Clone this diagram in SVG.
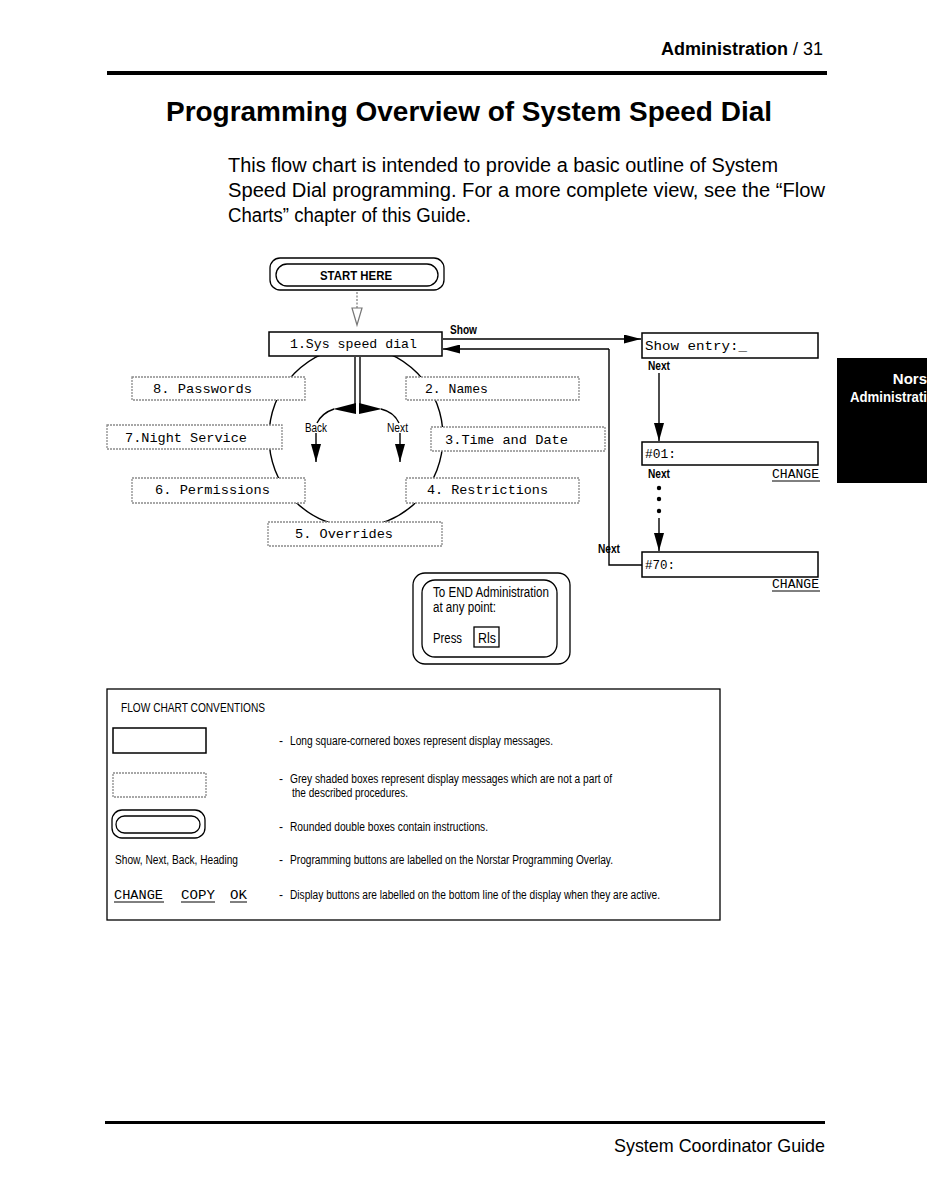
<svg xmlns="http://www.w3.org/2000/svg" width="942" height="1180" viewBox="0 0 942 1180">
<defs>
<style>
.sans{font-family:"Liberation Sans",Arial,sans-serif;fill:#000}
.bold{font-weight:bold}
.lcd{font-family:"Liberation Mono","DejaVu Sans Mono",monospace;font-size:13.5px;fill:#000}
.lbl{font-family:"Liberation Sans",Arial,sans-serif;font-size:12px;font-weight:bold;fill:#000}
.conv{font-family:"Liberation Sans",Arial,sans-serif;font-size:12px;fill:#000}
.disp{fill:#fff;stroke:#000;stroke-width:1.5}
.grey{fill:#fff;stroke:#8a8a8a;stroke-width:1.3;stroke-dasharray:2 1}
.ln{fill:none;stroke:#000;stroke-width:1.4}
.ul{stroke:#000;stroke-width:1}
</style>
<marker id="ah" markerUnits="userSpaceOnUse" markerWidth="18" markerHeight="10" refX="18" refY="5" orient="auto">
<path d="M0,0 L18,5 L0,10 z" fill="#000"/>
</marker>
<marker id="ahs" markerUnits="userSpaceOnUse" markerWidth="17" markerHeight="9" refX="17" refY="4.5" orient="auto">
<path d="M0,0 L17,4.5 L0,9 z" fill="#000"/>
</marker>
</defs>
<rect width="942" height="1180" fill="#fff"/>

<g id="header">
<text x="823" y="55" text-anchor="end" class="sans" font-size="18"><tspan class="bold">Administration</tspan> / 31</text>
<rect x="107" y="71" width="720" height="4" fill="#000"/>
<text x="166" y="121" class="sans bold" font-size="28" textLength="606" lengthAdjust="spacingAndGlyphs">Programming Overview of System Speed Dial</text>
<text x="228" y="172" class="sans" font-size="19.5" textLength="550" lengthAdjust="spacingAndGlyphs">This flow chart is intended to provide a basic outline of System</text>
<text x="228" y="197" class="sans" font-size="19.5" textLength="597" lengthAdjust="spacingAndGlyphs">Speed Dial programming.  For a more complete view, see the “Flow</text>
<text x="228" y="222" class="sans" font-size="19.5" textLength="243" lengthAdjust="spacingAndGlyphs">Charts” chapter of this Guide.</text>
</g>

<g id="tab">
<rect x="837" y="358" width="90" height="125" fill="#000"/>
<text x="927" y="384" text-anchor="end" class="sans bold" font-size="15" style="fill:#fff">Nors</text>
<text x="927" y="402" text-anchor="end" class="sans bold" font-size="15" textLength="77" lengthAdjust="spacingAndGlyphs" style="fill:#fff">Administrati</text>
</g>

<g id="connectors">
<ellipse cx="356" cy="437" rx="87" ry="90" class="ln"/>
<line x1="357" y1="292" x2="357" y2="309" stroke="#777" stroke-width="1.2" stroke-dasharray="2 1.5"/>
<path d="M352,308 L362,308 L357,325 z" fill="#fff" stroke="#777" stroke-width="1.2"/>
<line x1="443" y1="339" x2="641" y2="339" class="ln" marker-end="url(#ahs)"/>
<polyline points="609,349 609,565 642,565" class="ln"/>
<line x1="609" y1="349" x2="443" y2="349" class="ln" marker-end="url(#ahs)"/>
<line x1="355" y1="357" x2="355" y2="412" class="ln"/>
<line x1="360" y1="357" x2="360" y2="412" class="ln"/>
<path d="M333,409 L356,403 L356,414 z" fill="#000"/>
<path d="M382,409 L359,403 L359,414 z" fill="#000"/>
<path d="M334,409 Q322,413 317,423" class="ln"/>
<path d="M381,409 Q394,412 399,423" class="ln"/>
<line x1="316" y1="433" x2="316" y2="462" class="ln" marker-end="url(#ah)"/>
<line x1="400" y1="433" x2="400" y2="462" class="ln" marker-end="url(#ah)"/>
<line x1="659" y1="373" x2="659" y2="441" class="ln" marker-end="url(#ah)"/>
<circle cx="659" cy="488" r="2.2" fill="#000"/>
<circle cx="659" cy="499" r="2.2" fill="#000"/>
<circle cx="659" cy="511" r="2.2" fill="#000"/>
<line x1="659" y1="518" x2="659" y2="551" class="ln" marker-end="url(#ah)"/>
<text x="450" y="334" class="lbl" textLength="27" lengthAdjust="spacingAndGlyphs">Show</text>
<text x="305" y="432" class="lbl" style="font-weight:normal" textLength="22" lengthAdjust="spacingAndGlyphs">Back</text>
<text x="387" y="432" class="lbl" style="font-weight:normal" textLength="21" lengthAdjust="spacingAndGlyphs">Next</text>
<text x="648" y="370" class="lbl" textLength="22" lengthAdjust="spacingAndGlyphs">Next</text>
<text x="648" y="478" class="lbl" textLength="22" lengthAdjust="spacingAndGlyphs">Next</text>
<text x="598" y="553" class="lbl" textLength="22" lengthAdjust="spacingAndGlyphs">Next</text>
</g>

<g id="start">
<rect x="270" y="258" width="174" height="32" rx="10" fill="#fff" stroke="#000" stroke-width="1.3"/>
<rect x="276" y="264" width="162" height="22" rx="11" fill="none" stroke="#000" stroke-width="1.3"/>
<text x="356" y="280" text-anchor="middle" class="sans bold" font-size="13" textLength="72" lengthAdjust="spacingAndGlyphs">START HERE</text>
</g>

<g id="n1"><rect x="269" y="332" width="173" height="24" class="disp"/><text x="290" y="348" class="lcd" textLength="127" lengthAdjust="spacingAndGlyphs">1.Sys speed dial</text></g>
<g id="n8"><rect x="132" y="377" width="173" height="23" class="grey"/><text x="153" y="393" class="lcd" textLength="99" lengthAdjust="spacingAndGlyphs">8. Passwords</text></g>
<g id="n2"><rect x="406" y="377" width="173" height="23" class="grey"/><text x="425" y="393" class="lcd" textLength="63" lengthAdjust="spacingAndGlyphs">2. Names</text></g>
<g id="n7"><rect x="107" y="425" width="175" height="24" class="grey"/><text x="125" y="442" class="lcd" textLength="122" lengthAdjust="spacingAndGlyphs">7.Night Service</text></g>
<g id="n3"><rect x="431" y="427" width="174" height="24" class="grey"/><text x="445" y="444" class="lcd" textLength="123" lengthAdjust="spacingAndGlyphs">3.Time and Date</text></g>
<g id="n6"><rect x="132" y="478" width="173" height="25" class="grey"/><text x="155" y="494" class="lcd" textLength="115" lengthAdjust="spacingAndGlyphs">6. Permissions</text></g>
<g id="n4"><rect x="406" y="478" width="173" height="25" class="grey"/><text x="427" y="494" class="lcd" textLength="121" lengthAdjust="spacingAndGlyphs">4. Restrictions</text></g>
<g id="n5"><rect x="268" y="522" width="174" height="24" class="grey"/><text x="295" y="538" class="lcd" textLength="98" lengthAdjust="spacingAndGlyphs">5. Overrides</text></g>

<g id="show-entry"><rect x="642" y="333" width="176" height="25" class="disp"/><text x="645" y="350" class="lcd" textLength="102" lengthAdjust="spacingAndGlyphs">Show entry:_</text></g>
<g id="entry01"><rect x="642" y="442" width="176" height="23" class="disp"/><text x="645" y="458" class="lcd" textLength="31" lengthAdjust="spacingAndGlyphs">#01:</text>
<text x="772" y="478" class="lcd" font-size="12.5" textLength="47" lengthAdjust="spacingAndGlyphs">CHANGE</text><line x1="772" y1="481" x2="820" y2="481" class="ul"/></g>
<g id="entry70"><rect x="642" y="552" width="176" height="25" class="disp"/><text x="645" y="569" class="lcd" textLength="30" lengthAdjust="spacingAndGlyphs">#70:</text>
<text x="772" y="588" class="lcd" font-size="12.5" textLength="47" lengthAdjust="spacingAndGlyphs">CHANGE</text><line x1="772" y1="591" x2="820" y2="591" class="ul"/></g>

<g id="end">
<rect x="413" y="573" width="157" height="91" rx="12" fill="#fff" stroke="#000" stroke-width="1.3"/>
<rect x="422" y="580" width="135" height="77" rx="13" fill="none" stroke="#000" stroke-width="1.3"/>
<text x="433" y="597" class="sans" font-size="14" textLength="116" lengthAdjust="spacingAndGlyphs">To END Administration</text>
<text x="433" y="612" class="sans" font-size="14" textLength="63" lengthAdjust="spacingAndGlyphs">at any point:</text>
<text x="433" y="643" class="sans" font-size="14" textLength="29" lengthAdjust="spacingAndGlyphs">Press</text>
<rect x="474" y="627" width="25" height="20" fill="none" stroke="#000" stroke-width="1.3"/>
<text x="478" y="643" class="sans" font-size="14" textLength="18" lengthAdjust="spacingAndGlyphs">Rls</text>
</g>

<g id="conventions">
<rect x="107" y="689" width="613" height="231" fill="none" stroke="#000" stroke-width="1.3"/>
<text x="121" y="712" class="conv" font-size="11" textLength="144" lengthAdjust="spacingAndGlyphs">FLOW CHART CONVENTIONS</text>
<rect x="113" y="728" width="93" height="25" fill="#fff" stroke="#000" stroke-width="1.5"/>
<rect x="113" y="773" width="93" height="24" class="grey"/>
<rect x="112" y="810" width="93" height="28" rx="10" fill="none" stroke="#000" stroke-width="1.3"/>
<rect x="116" y="816" width="84" height="17" rx="8.5" fill="none" stroke="#000" stroke-width="1.3"/>
<text x="115" y="864" class="conv" textLength="123" lengthAdjust="spacingAndGlyphs">Show, Next, Back, Heading</text>
<text x="114" y="899" class="lcd" font-size="12.5" textLength="49" lengthAdjust="spacingAndGlyphs">CHANGE</text>
<line x1="114" y1="902" x2="164" y2="902" class="ul"/>
<text x="181" y="899" class="lcd" font-size="12.5" textLength="34" lengthAdjust="spacingAndGlyphs">COPY</text>
<line x1="181" y1="902" x2="215" y2="902" class="ul"/>
<text x="230" y="899" class="lcd" font-size="12.5" textLength="17" lengthAdjust="spacingAndGlyphs">OK</text>
<line x1="230" y1="902" x2="247" y2="902" class="ul"/>
<text x="279" y="745" class="conv">-</text>
<text x="290" y="745" class="conv" textLength="263" lengthAdjust="spacingAndGlyphs">Long square-cornered boxes represent display messages.</text>
<text x="279" y="783" class="conv">-</text>
<text x="290" y="783" class="conv" textLength="322" lengthAdjust="spacingAndGlyphs">Grey shaded boxes represent display messages which are not a part of</text>
<text x="292" y="797" class="conv" textLength="116" lengthAdjust="spacingAndGlyphs">the described procedures.</text>
<text x="279" y="831" class="conv">-</text>
<text x="290" y="831" class="conv" textLength="198" lengthAdjust="spacingAndGlyphs">Rounded double boxes contain instructions.</text>
<text x="279" y="864" class="conv">-</text>
<text x="290" y="864" class="conv" textLength="323" lengthAdjust="spacingAndGlyphs">Programming buttons are labelled on the Norstar Programming Overlay.</text>
<text x="279" y="899" class="conv">-</text>
<text x="290" y="899" class="conv" textLength="370" lengthAdjust="spacingAndGlyphs">Display buttons are labelled on the bottom line of the display when they are active.</text>
</g>

<g id="footer">
<rect x="105" y="1121" width="720" height="3" fill="#000"/>
<text x="825" y="1152" text-anchor="end" class="sans" font-size="19" textLength="211" lengthAdjust="spacingAndGlyphs">System Coordinator Guide</text>
</g>
</svg>
